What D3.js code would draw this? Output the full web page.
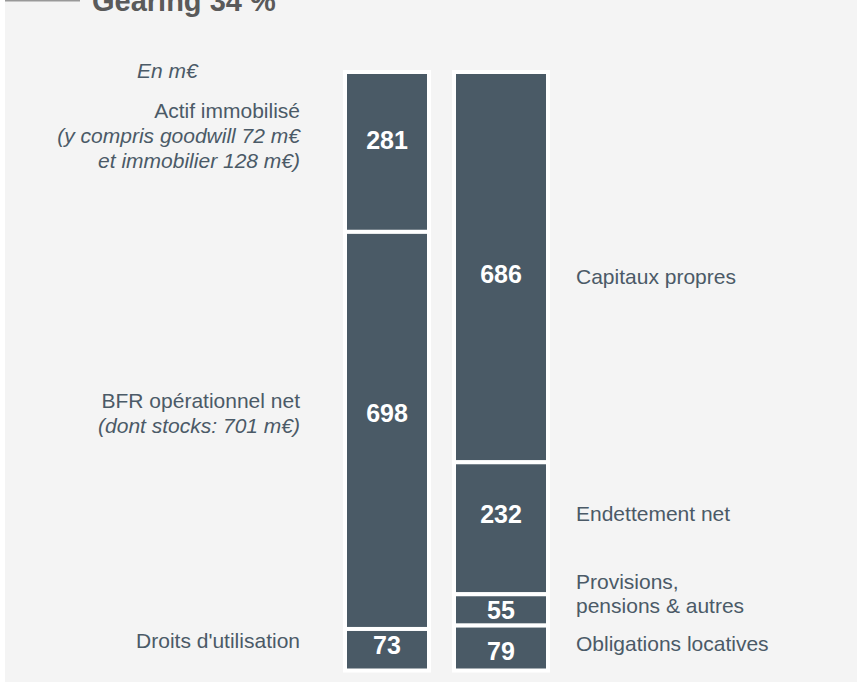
<!DOCTYPE html>
<html lang="fr">
<head>
<meta charset="utf-8" />
<title>Gearing 34 %</title>
<style>
  html, body { margin: 0; padding: 0; background: #ffffff; }
  svg { display: block; font-family: "Liberation Sans", Arial, sans-serif; }
</style>
</head>
<body>
<div id="chart"></div>
<script src="https://cdn.jsdelivr.net/npm/d3@7"></script>
<script>
// data (m€)
var columns = ["actif", "passif"];

var actifLabels = ["Actif immobilisé", "BFR opérationnel net", "Droits d'utilisation"];
var actifNotes = [["(y compris goodwill 72 m€", "et immobilier 128 m€)"], ["(dont stocks: 701 m€)"], []];
var actifValues = [281, 698, 73];

var passifLabels = [["Capitaux propres"], ["Endettement net"], ["Provisions,", "pensions & autres"], ["Obligations locatives"]];
var passifValues = [686, 232, 55, 79];

var title = "Gearing 34 %";
var unitLabel = "En m€";

// layout (px)
var W = 861, H = 682;
var barColor = "#4a5a66", textColor = "#4b5a67";
var barWidth = { actif: 84, passif: 94 };
// tweaks of label position relative to the segment centre
var actifValueDy = [-11.5, -17.5, -5], actifNoteDy = [-33.5, -22, -1.5];
var passifValueDy = [7, -14, 0, 2.5], passifNoteDy = [16.5, -7.5, -21, 2.5];

var svg = d3.select("#chart").append("svg")
    .attr("width", W)
    .attr("height", H);

svg.append("rect")
    .attr("x", 5).attr("y", 0)
    .attr("width", 852).attr("height", H)
    .attr("fill", "#f4f4f4");

svg.append("rect")
    .attr("x", 5).attr("y", 0)
    .attr("width", 75).attr("height", 1.5)
    .attr("fill", "#999999");

svg.append("text")
    .attr("x", 92).attr("y", 11)
    .attr("font-size", 29).attr("font-weight", "bold")
    .attr("fill", "#5a5a5a")
    .text(title);

svg.append("text")
    .attr("x", 137).attr("y", 78)
    .attr("font-size", 21).attr("font-style", "italic")
    .attr("fill", textColor)
    .text(unitLabel);

var total = d3.sum(actifValues);
var y = d3.scaleLinear().domain([0, total]).range([72, 670.5]);
var x = d3.scalePoint().domain(columns).range([387, 501]);

function stack(values) {
  var acc = 0;
  return values.map(function (v, i) {
    var s = { i: i, value: v, y0: acc, y1: acc + v };
    acc += v;
    return s;
  });
}

function drawColumn(key, values, valueDy) {
  var segs = stack(values);
  var g = svg.append("g");
  var w = barWidth[key];
  g.selectAll("rect").data(segs).join("rect")
      .attr("x", x(key) - w / 2)
      .attr("width", w)
      .attr("y", function (d) { return y(d.y0); })
      .attr("height", function (d) { return y(d.y1) - y(d.y0); })
      .attr("fill", barColor)
      .attr("stroke", "#ffffff")
      .attr("stroke-width", 4);
  g.selectAll("text").data(segs).join("text")
      .attr("x", x(key))
      .attr("y", function (d) { return (y(d.y0) + y(d.y1)) / 2 + valueDy[d.i] + 9; })
      .attr("text-anchor", "middle")
      .attr("font-size", 25).attr("font-weight", "bold")
      .attr("fill", "#ffffff")
      .text(function (d) { return d.value; });
  return segs;
}

var actifSegs = drawColumn("actif", actifValues, actifValueDy);
var passifSegs = drawColumn("passif", passifValues, passifValueDy);

// left annotations
actifSegs.forEach(function (d) {
  var cy = (y(d.y0) + y(d.y1)) / 2 + actifNoteDy[d.i];
  var t = svg.append("text")
      .attr("x", 300).attr("y", cy)
      .attr("text-anchor", "end")
      .attr("font-size", 21)
      .attr("fill", textColor);
  t.append("tspan").attr("x", 300).text(actifLabels[d.i]);
  actifNotes[d.i].forEach(function (line) {
    t.append("tspan").attr("x", 300).attr("dy", 25)
        .attr("font-style", "italic").text(line);
  });
});

// right annotations
passifSegs.forEach(function (d) {
  var cy = (y(d.y0) + y(d.y1)) / 2 + passifNoteDy[d.i];
  var t = svg.append("text")
      .attr("x", 576).attr("y", cy)
      .attr("font-size", 21)
      .attr("fill", textColor);
  passifLabels[d.i].forEach(function (line, j) {
    t.append("tspan").attr("x", 576).attr("dy", j ? 24 : 0).text(line);
  });
});
</script>
</body>
</html>
